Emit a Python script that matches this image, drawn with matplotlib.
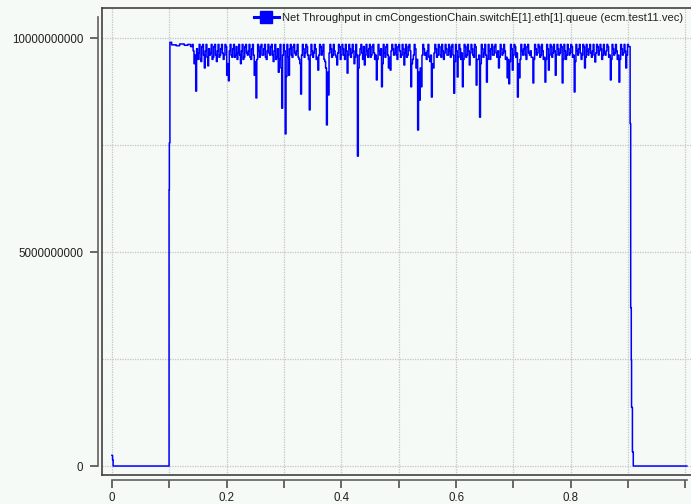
import numpy as np
import matplotlib
matplotlib.use("Agg")
import matplotlib.pyplot as plt
from matplotlib.lines import Line2D

# ---- data (values in units of 1e9 bit/s) ----
start_t = [0.0, 0.001, 0.002, 0.0995, 0.100, 0.101, 0.104, 0.112, 0.118, 0.126, 0.132, 0.137]
start_v = [0.25, 0.14, 0.0, 6.45, 7.55, 9.90, 9.84, 9.82, 9.86, 9.83, 9.85, 9.80]

noise_t0 = 0.140
noise_dt = 0.003
# samples at noise_t0 + i*noise_dt
noise_v = [
    9.85, 9.4, 8.76, 9.5, 9.85, 9.45, 9.85, 9.3, 9.85, 9.35,
    9.6, 9.85, 9.55, 9.85, 9.45, 9.85, 9.6, 9.85, 9.5, 9.85,
    9.13, 9.0, 9.85, 9.55, 9.85, 9.6, 9.5, 9.85, 9.4, 9.85,
    9.55, 9.85, 9.6, 9.85, 9.5, 9.85, 9.13, 8.6, 9.85, 9.55,
    9.85, 9.6, 9.85, 9.5, 9.85, 9.6, 9.85, 9.45, 9.85, 9.55,
    9.2, 9.85, 8.36, 9.85, 7.76, 9.85, 9.13, 9.85, 9.55, 9.85,
    9.6, 9.85, 9.5, 8.69, 9.85, 9.55, 9.85, 9.6, 8.32, 9.85,
    9.55, 9.85, 9.5, 9.25, 9.85, 9.6, 9.85, 9.45, 7.97, 8.67,
    9.85, 9.55, 9.85, 9.6, 9.37, 9.85, 9.5, 9.85, 9.6, 9.85,
    9.18, 9.85, 9.55, 9.85, 9.4, 9.85, 7.24, 9.6, 9.85, 9.5,
    9.37, 9.85, 9.55, 9.85, 9.6, 9.85, 9.5, 9.02, 9.85, 9.6,
    8.86, 9.85, 9.55, 9.85, 9.3, 9.25, 9.85, 9.6, 9.85, 9.5,
    9.85, 9.55, 9.85, 9.37, 9.85, 9.6, 9.85, 8.86, 9.5, 9.85,
    9.3, 7.85, 8.55, 8.86, 9.85, 9.6, 9.5, 9.85, 9.45, 8.62,
    9.3, 9.85, 9.55, 9.85, 9.6, 9.85, 9.5, 9.85, 9.6, 9.85,
    9.55, 9.85, 8.71, 9.85, 9.09, 9.85, 9.5, 8.86, 9.85, 9.55,
    9.85, 9.37, 9.85, 9.6, 9.85, 8.9, 9.5, 8.15, 9.85, 9.55,
    9.85, 8.97, 9.85, 9.5, 9.85, 9.6, 9.85, 9.55, 9.3, 9.85,
    9.6, 9.85, 9.5, 9.07, 8.93, 9.85, 9.25, 9.85, 9.55, 8.62,
    9.07, 9.85, 9.6, 9.85, 9.5, 9.85, 9.6, 9.55, 8.95, 9.85,
    9.6, 9.85, 9.55, 9.85, 9.5, 8.97, 9.85, 9.25, 9.85, 9.55,
    9.85, 9.13, 9.85, 9.6, 9.85, 8.95, 9.85, 9.5, 9.85, 9.6,
    9.85, 9.55, 8.74, 9.85, 9.6, 9.85, 9.5, 9.85, 9.3, 9.85,
    9.6, 9.85, 9.55, 9.85, 9.44, 9.85, 9.6, 9.85, 9.5, 9.85,
    9.6, 9.85, 9.55, 9.02, 9.85, 9.6, 9.85, 9.5, 8.97, 9.85,
    9.6, 9.85, 9.3, 9.85,
]
# samples half-way between the above (at noise_t0 + i*noise_dt + noise_dt/2)
noise_v_mid = [
    9.7, 9.6, 9.75, 9.65, 9.5, 9.8, 9.6, 9.7, 9.55, 9.75,
    9.65, 9.5, 9.8, 9.6, 9.7, 9.55, 9.75, 9.65, 9.6, 9.8,
    9.4, 9.7, 9.6, 9.75, 9.55, 9.8, 9.65, 9.6, 9.7, 9.5,
    9.8, 9.65, 9.7, 9.55, 9.75, 9.6, 9.45, 9.5, 9.7, 9.8,
    9.6, 9.75, 9.55, 9.7, 9.65, 9.8, 9.6, 9.7, 9.5, 9.75,
    9.5, 9.3, 9.6, 9.7, 9.1, 9.55, 9.75, 9.6, 9.8, 9.65,
    9.7, 9.55, 9.4, 9.6, 9.75, 9.65, 9.8, 9.5, 9.6, 9.7,
    9.65, 9.75, 9.55, 9.6, 9.8, 9.7, 9.5, 9.3, 9.2, 9.65,
    9.75, 9.6, 9.7, 9.55, 9.65, 9.8, 9.6, 9.75, 9.5, 9.7,
    9.6, 9.75, 9.65, 9.7, 9.55, 9.6, 9.3, 9.75, 9.65, 9.8,
    9.6, 9.7, 9.75, 9.55, 9.8, 9.65, 9.6, 9.5, 9.7, 9.75,
    9.4, 9.65, 9.8, 9.6, 9.55, 9.7, 9.75, 9.65, 9.6, 9.8,
    9.7, 9.6, 9.75, 9.65, 9.55, 9.8, 9.7, 9.4, 9.6, 9.75,
    9.5, 9.2, 9.3, 9.6, 9.75, 9.65, 9.7, 9.55, 9.6, 9.4,
    9.65, 9.75, 9.6, 9.8, 9.55, 9.7, 9.65, 9.75, 9.6, 9.7,
    9.8, 9.6, 9.45, 9.7, 9.55, 9.75, 9.65, 9.5, 9.8, 9.6,
    9.7, 9.65, 9.75, 9.55, 9.8, 9.5, 9.6, 9.4, 9.75, 9.65,
    9.6, 9.5, 9.7, 9.75, 9.6, 9.8, 9.65, 9.7, 9.55, 9.75,
    9.65, 9.7, 9.55, 9.5, 9.45, 9.75, 9.6, 9.8, 9.65, 9.4,
    9.5, 9.7, 9.75, 9.6, 9.8, 9.65, 9.7, 9.55, 9.5, 9.75,
    9.65, 9.8, 9.6, 9.7, 9.55, 9.5, 9.75, 9.6, 9.8, 9.65,
    9.7, 9.6, 9.75, 9.65, 9.8, 9.5, 9.7, 9.6, 9.75, 9.65,
    9.8, 9.6, 9.45, 9.7, 9.75, 9.65, 9.6, 9.8, 9.55, 9.7,
    9.75, 9.65, 9.7, 9.6, 9.65, 9.8, 9.7, 9.75, 9.6, 9.65,
    9.7, 9.8, 9.6, 9.5, 9.75, 9.65, 9.7, 9.6, 9.5, 9.75,
    9.65, 9.7, 9.6, 9.8,
]

end_t = [0.9035, 0.9045, 0.9055, 0.9060, 0.9075, 0.9090, 1.0025]
end_v = [8.00, 3.70, 2.48, 1.37, 0.33, 0.0, 0.0]

x_major = [0, 0.2, 0.4, 0.6, 0.8]
x_major_labels = ["0", "0.2", "0.4", "0.6", "0.8"]
x_minor = [0.1, 0.3, 0.5, 0.7, 0.9, 1.0]
y_major = [0, 5e9, 1e10]
y_major_labels = ["0", "5000000000", "10000000000"]
y_minor = [2.5e9, 7.5e9]

legend_label = "Net Throughput in cmCongestionChain.switchE[1].eth[1].queue (ecm.test11.vec)"

# ---- build series ----
noise_t, noise_all = [], []
for i, (a, b) in enumerate(zip(noise_v, noise_v_mid)):
    ti = noise_t0 + noise_dt * i
    noise_t += [round(ti, 5), round(ti + noise_dt / 2, 5)]
    noise_all += [a, b]
t = np.array(start_t + noise_t + end_t)
v = np.array(start_v + noise_all + end_v) * 1e9

bg = "#f6faf7"
fig = plt.figure(figsize=(6.91, 5.04), dpi=100, facecolor=bg)
plt.rcParams['font.family'] = ['Liberation Sans', 'DejaVu Sans']

W, H = 691, 504
left, right, top, bottom = 101.5, 692, 8, 475
ax = fig.add_axes([left / W, 1 - bottom / H, (right - left) / W, (bottom - top) / H])
ax.set_facecolor(bg)

ax.plot(t, v, drawstyle='steps-post', color='#0000ff', lw=1.1, label=legend_label)

ax.set_xlim(-0.0183, 1.0114)
ax.set_ylim(-0.021e10, 1.0701e10)

frame_c = '#404040'
for s in ['top', 'right']:
    ax.spines[s].set_color(frame_c)
    ax.spines[s].set_linewidth(1.2)
ax.add_line(Line2D([0, 0], [0, 1], transform=ax.transAxes, color=frame_c, lw=1.2, clip_on=False))
ax.add_line(Line2D([0, 1], [0, 0], transform=ax.transAxes, color=frame_c, lw=1.2, clip_on=False))

ax.spines['left'].set_position(('outward', 2.3))
ax.spines['bottom'].set_position(('outward', 3.6))
ax.spines['left'].set_bounds(0, 1.049e10)
ax.spines['bottom'].set_bounds(0, 1.0026)
for s in ['left', 'bottom']:
    ax.spines[s].set_color('#606060')
    ax.spines[s].set_linewidth(1.2)

ax.set_xticks(x_major)
ax.set_xticklabels(x_major_labels)
ax.set_xticks(x_minor, minor=True)
ax.set_yticks(y_major)
ax.set_yticklabels(y_major_labels)
ax.set_yticks(y_minor, minor=True)

ax.tick_params(axis='x', which='both', length=5.5, width=1.1, color='#404040',
               labelsize=8.3, pad=3, labelcolor='#202020')
ax.tick_params(axis='y', which='major', length=5.8, width=1.1, color='#404040',
               labelsize=8.3, pad=5, labelcolor='#202020')
ax.tick_params(axis='y', which='minor', length=0)

ax.grid(True, which='both', color='#c4c4c4', linestyle=(0, (1, 1)), lw=0.9)
ax.set_axisbelow(True)

handle = Line2D([], [], color='#0000ff', lw=2.2, marker='s', markersize=8.5)
leg = fig.legend([handle], [legend_label], loc='center left',
                 bbox_to_anchor=(254 / W, 1 - 18 / H), frameon=False,
                 fontsize=8.1, handlelength=2.2, handletextpad=0.3, borderaxespad=0,
                 borderpad=0)
for txt in leg.get_texts():
    txt.set_color('#202020')

fig.savefig("out.png", dpi=100, facecolor=bg)
